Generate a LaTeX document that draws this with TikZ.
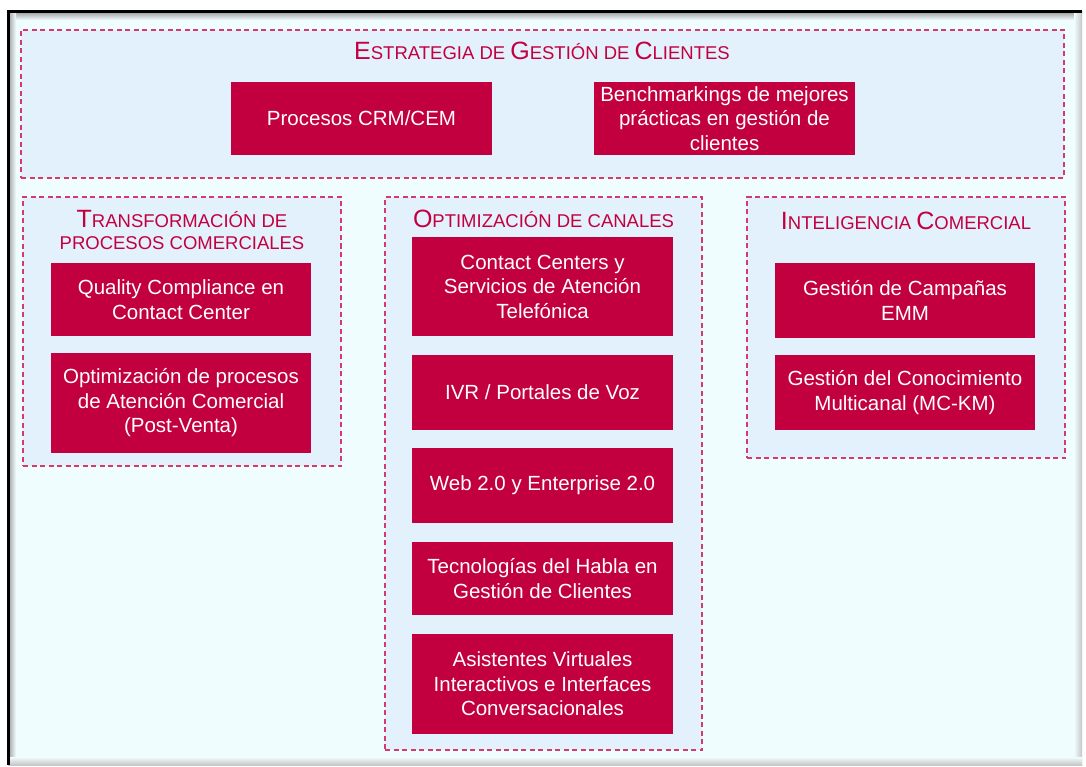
\documentclass[tikz,border=0pt]{standalone}
\usepackage{fontspec}
\setmainfont{Liberation Sans}
\definecolor{crimson}{HTML}{C2003F}
\definecolor{dashpink}{HTML}{D43A6E}
\definecolor{groupbg}{HTML}{E3F1FC}
\definecolor{pagebg}{HTML}{F0FDFE}
% small-caps headings built from two sizes
\newcommand\hcap[1]{{\fontsize{25}{22}\selectfont #1}}
\newcommand\hlow[1]{{\fontsize{18.5}{22}\selectfont #1}}
\begin{document}
\begin{tikzpicture}[x=1pt,y=-1pt,
  item/.style={fill=crimson, draw=none, text=white, align=center, inner sep=0pt,
    font=\fontsize{20.5}{24.5}\selectfont},
  group/.style={draw=dashpink, fill=groupbg, line width=1.6pt,
    dash pattern=on 5pt off 3.5pt, inner sep=0pt},
  heading/.style={text=crimson, align=center, inner sep=0pt,
    font=\fontsize{18.5}{22}\selectfont},
]
\useasboundingbox (0,0) rectangle (1086,767);
\fill[white] (0,0) rectangle (1086,767);
\fill[pagebg] (8,12) rectangle (1082,765);
% frame with inner shadow
\shade[top color=gray!75, bottom color=pagebg] (8,12) rectangle (1082,20);
\shade[left color=gray!75, right color=pagebg] (8,12) rectangle (16,765);
\shade[right color=gray!45, left color=pagebg] (1074,12) rectangle (1082,765);
\shade[bottom color=gray!45, top color=pagebg] (8,757) rectangle (1082,765);
\draw[black, line width=3pt] (8,765) -- (8,12) -- (1082,12);

% dashed groups
\node[group, minimum width=1043, minimum height=148] (gtop) at (542.5,104) {};
\node[group, minimum width=318, minimum height=269] (gleft) at (182,331.5) {};
\node[group, minimum width=317, minimum height=553] (gmid) at (543.5,473.5) {};
\node[group, minimum width=318, minimum height=261] (gright) at (906,327.5) {};

% headings
\node[heading] (htop) at (542,51) {\hcap{E}\hlow{STRATEGIA DE }\hcap{G}\hlow{ESTIÓN DE }\hcap{C}\hlow{LIENTES}};
\node[heading] (hleft) at (182,230) {\hcap{T}\hlow{RANSFORMACIÓN DE}\\\hlow{PROCESOS COMERCIALES}};
\node[heading] (hmid) at (543.5,219) {\hcap{O}\hlow{PTIMIZACIÓN DE CANALES}};
\node[heading] (hright) at (906,221) {\hcap{I}\hlow{NTELIGENCIA }\hcap{C}\hlow{OMERCIAL}};

% top row
\node[item, minimum width=261, minimum height=73] (crm) at (361.5,118.5) {Procesos CRM/CEM};
\node[item, minimum width=261, minimum height=73] (bench) at (724.5,118.5) {Benchmarkings de mejores\\prácticas en gestión de\\clientes};

% left column
\node[item, minimum width=260, minimum height=73] (quality) at (181,299.5) {Quality Compliance en\\Contact Center};
\node[item, minimum width=260, minimum height=100] (optproc) at (181,403) {Optimización de procesos\\de Atención Comercial\\(Post-Venta)};

% middle column
\node[item, minimum width=261, minimum height=99] (contact) at (542.5,286.5) {Contact Centers y\\Servicios de Atención\\Telefónica};
\node[item, minimum width=261, minimum height=75] (ivr) at (542.5,392.5) {IVR / Portales de Voz};
\node[item, minimum width=261, minimum height=75] (web) at (542.5,485.5) {Web 2.0 y Enterprise 2.0};
\node[item, minimum width=261, minimum height=73] (speech) at (542.5,578.5) {Tecnologías del Habla en\\Gestión de Clientes};
\node[item, minimum width=261, minimum height=100] (virtual) at (542.5,684) {Asistentes Virtuales\\Interactivos e Interfaces\\Conversacionales};

% right column
\node[item, minimum width=260, minimum height=75] (emm) at (905,300.5) {Gestión de Campañas\\EMM};
\node[item, minimum width=260, minimum height=75] (mckm) at (905,392.5) {Gestión del Conocimiento\\Multicanal (MC-KM)};
\end{tikzpicture}
\end{document}
